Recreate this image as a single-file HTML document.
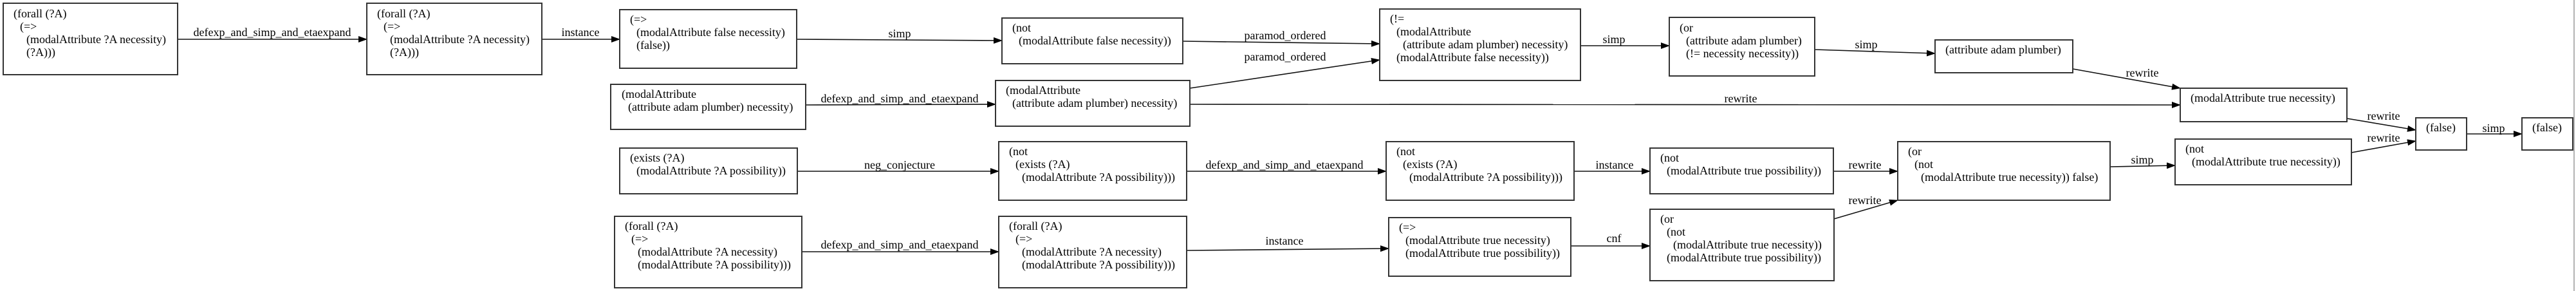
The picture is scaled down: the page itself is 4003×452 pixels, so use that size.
<!DOCTYPE html>
<html><head><meta charset="utf-8"><style>
html,body{margin:0;padding:0;background:#fff;}
svg{display:block;}
text{font-family:"Liberation Serif",serif;font-size:18px;fill:#000;white-space:pre;}
.b{fill:#fff;stroke:#333;stroke-width:2;}
.e{stroke:#111;stroke-width:1.6;fill:none;}
.lab{text-anchor:middle;}
</style></head><body>
<svg width="4003" height="452" viewBox="0 0 4003 452" xmlns="http://www.w3.org/2000/svg">
<defs><marker id="ar" markerWidth="14" markerHeight="10" refX="13" refY="5" orient="auto" markerUnits="userSpaceOnUse"><path d="M0,0 L14,5 L0,10 z" fill="#000"/></marker></defs>
<rect x="0" y="0" width="4003" height="452" fill="#fff"/>
<line x1="4000" y1="0" x2="4000" y2="452" stroke="#999" stroke-width="1.5"/>

<!-- edges -->
<g class="e">
<line x1="276" y1="61" x2="570" y2="61" marker-end="url(#ar)"/>
<line x1="842" y1="61" x2="963" y2="61" marker-end="url(#ar)"/>
<line x1="1238" y1="61" x2="1557" y2="63" marker-end="url(#ar)"/>
<line x1="1838" y1="64" x2="2144" y2="68" marker-end="url(#ar)"/>
<line x1="1849" y1="137" x2="2144" y2="93" marker-end="url(#ar)"/>
<line x1="2456" y1="71" x2="2594" y2="71" marker-end="url(#ar)"/>
<line x1="2820" y1="77" x2="3007" y2="83" marker-end="url(#ar)"/>
<line x1="3221" y1="107" x2="3388" y2="137" marker-end="url(#ar)"/>
<line x1="1252" y1="163" x2="1547" y2="162" marker-end="url(#ar)"/>
<line x1="1849" y1="162" x2="3388" y2="163" marker-end="url(#ar)"/>
<line x1="3647" y1="184" x2="3754" y2="202" marker-end="url(#ar)"/>
<line x1="3654" y1="237" x2="3754" y2="219" marker-end="url(#ar)"/>
<line x1="3833" y1="208" x2="3919" y2="208" marker-end="url(#ar)"/>
<line x1="1239" y1="266" x2="1552" y2="266" marker-end="url(#ar)"/>
<line x1="1844" y1="266" x2="2154" y2="266" marker-end="url(#ar)"/>
<line x1="2446" y1="266" x2="2564" y2="266" marker-end="url(#ar)"/>
<line x1="2849" y1="266" x2="2949" y2="266" marker-end="url(#ar)"/>
<line x1="2850" y1="340" x2="2949" y2="311" marker-end="url(#ar)"/>
<line x1="3279" y1="259" x2="3380" y2="257" marker-end="url(#ar)"/>
<line x1="1246" y1="391" x2="1552" y2="391" marker-end="url(#ar)"/>
<line x1="1844" y1="389" x2="2158" y2="386" marker-end="url(#ar)"/>
<line x1="2441" y1="382" x2="2564" y2="382" marker-end="url(#ar)"/>
</g>

<!-- edge labels -->
<g class="lab">
<text class="lab" x="423" y="56">defexp_and_simp_and_etaexpand</text>
<text class="lab" x="902" y="56">instance</text>
<text class="lab" x="1398" y="58">simp</text>
<text class="lab" x="1997" y="61">paramod_ordered</text>
<text class="lab" x="1997" y="94">paramod_ordered</text>
<text class="lab" x="2508" y="67">simp</text>
<text class="lab" x="2900" y="75">simp</text>
<text class="lab" x="3329" y="119">rewrite</text>
<text class="lab" x="1398" y="159">defexp_and_simp_and_etaexpand</text>
<text class="lab" x="2705" y="159">rewrite</text>
<text class="lab" x="3704" y="186">rewrite</text>
<text class="lab" x="3704" y="220">rewrite</text>
<text class="lab" x="3875" y="205">simp</text>
<text class="lab" x="1398" y="262">neg_conjecture</text>
<text class="lab" x="1996" y="262">defexp_and_simp_and_etaexpand</text>
<text class="lab" x="2509" y="262">instance</text>
<text class="lab" x="2898" y="262">rewrite</text>
<text class="lab" x="2898" y="317">rewrite</text>
<text class="lab" x="3329" y="254">simp</text>
<text class="lab" x="1398" y="386">defexp_and_simp_and_etaexpand</text>
<text class="lab" x="1996" y="380">instance</text>
<text class="lab" x="2508" y="376">cnf</text>
</g>

<!-- boxes -->
<rect class="b" x="5" y="5" width="271" height="111"/>
<text x="21" y="27">(forall (?A)</text><text x="31" y="47">(=></text><text x="41" y="67">(modalAttribute ?A necessity)</text><text x="41" y="87">(?A)))</text>

<rect class="b" x="570" y="5" width="272" height="111"/>
<text x="586" y="27">(forall (?A)</text><text x="596" y="47">(=></text><text x="606" y="67">(modalAttribute ?A necessity)</text><text x="606" y="87">(?A)))</text>

<rect class="b" x="963" y="15" width="275" height="91"/>
<text x="979" y="36">(=></text><text x="989" y="56">(modalAttribute false necessity)</text><text x="989" y="76">(false))</text>

<rect class="b" x="949" y="131" width="303" height="70"/>
<text x="966" y="152">(modalAttribute</text><text x="976" y="172">(attribute adam plumber) necessity)</text>

<rect class="b" x="963" y="230" width="276" height="71"/>
<text x="979" y="251">(exists (?A)</text><text x="989" y="271">(modalAttribute ?A possibility))</text>

<rect class="b" x="955" y="336" width="291" height="111"/>
<text x="971" y="357">(forall (?A)</text><text x="981" y="377">(=></text><text x="991" y="397">(modalAttribute ?A necessity)</text><text x="991" y="417">(modalAttribute ?A possibility)))</text>

<rect class="b" x="1557" y="28" width="281" height="71"/>
<text x="1573" y="49">(not</text><text x="1583" y="69">(modalAttribute false necessity))</text>

<rect class="b" x="2144" y="14" width="312" height="111"/>
<text x="2160" y="35">(!=</text><text x="2170" y="55">(modalAttribute</text><text x="2180" y="75">(attribute adam plumber) necessity)</text><text x="2170" y="95">(modalAttribute false necessity))</text>

<rect class="b" x="2594" y="27" width="226" height="91"/>
<text x="2610" y="49">(or</text><text x="2620" y="69">(attribute adam plumber)</text><text x="2620" y="89">(!= necessity necessity))</text>

<rect class="b" x="1547" y="125" width="302" height="71"/>
<text x="1563" y="146">(modalAttribute</text><text x="1573" y="166">(attribute adam plumber) necessity)</text>

<rect class="b" x="1552" y="220" width="292" height="91"/>
<text x="1568" y="241">(not</text><text x="1578" y="261">(exists (?A)</text><text x="1588" y="281">(modalAttribute ?A possibility)))</text>

<rect class="b" x="2154" y="220" width="292" height="91"/>
<text x="2170" y="241">(not</text><text x="2180" y="261">(exists (?A)</text><text x="2190" y="281">(modalAttribute ?A possibility)))</text>

<rect class="b" x="2564" y="230" width="285" height="71"/>
<text x="2580" y="251">(not</text><text x="2590" y="271">(modalAttribute true possibility))</text>

<rect class="b" x="1552" y="336" width="292" height="111"/>
<text x="1568" y="357">(forall (?A)</text><text x="1578" y="377">(=></text><text x="1588" y="397">(modalAttribute ?A necessity)</text><text x="1588" y="417">(modalAttribute ?A possibility)))</text>

<rect class="b" x="2158" y="338" width="283" height="91"/>
<text x="2174" y="359">(=></text><text x="2184" y="379">(modalAttribute true necessity)</text><text x="2184" y="399">(modalAttribute true possibility))</text>

<rect class="b" x="2564" y="325" width="286" height="111"/>
<text x="2580" y="346">(or</text><text x="2590" y="366">(not</text><text x="2600" y="386">(modalAttribute true necessity))</text><text x="2590" y="406">(modalAttribute true possibility))</text>

<rect class="b" x="3007" y="62" width="214" height="51"/>
<text x="3023" y="83">(attribute adam plumber)</text>

<rect class="b" x="3388" y="137" width="259" height="52"/>
<text x="3404" y="158">(modalAttribute true necessity)</text>

<rect class="b" x="2949" y="220" width="330" height="91"/>
<text x="2965" y="241">(or</text><text x="2975" y="261">(not</text><text x="2985" y="281">(modalAttribute true necessity)) false)</text>

<rect class="b" x="3380" y="216" width="274" height="71"/>
<text x="3396" y="237">(not</text><text x="3406" y="257">(modalAttribute true necessity))</text>

<rect class="b" x="3754" y="183" width="79" height="50"/>
<text x="3770" y="204">(false)</text>

<rect class="b" x="3919" y="183" width="79" height="50"/>
<text x="3935" y="204">(false)</text>
</svg>
</body></html>
